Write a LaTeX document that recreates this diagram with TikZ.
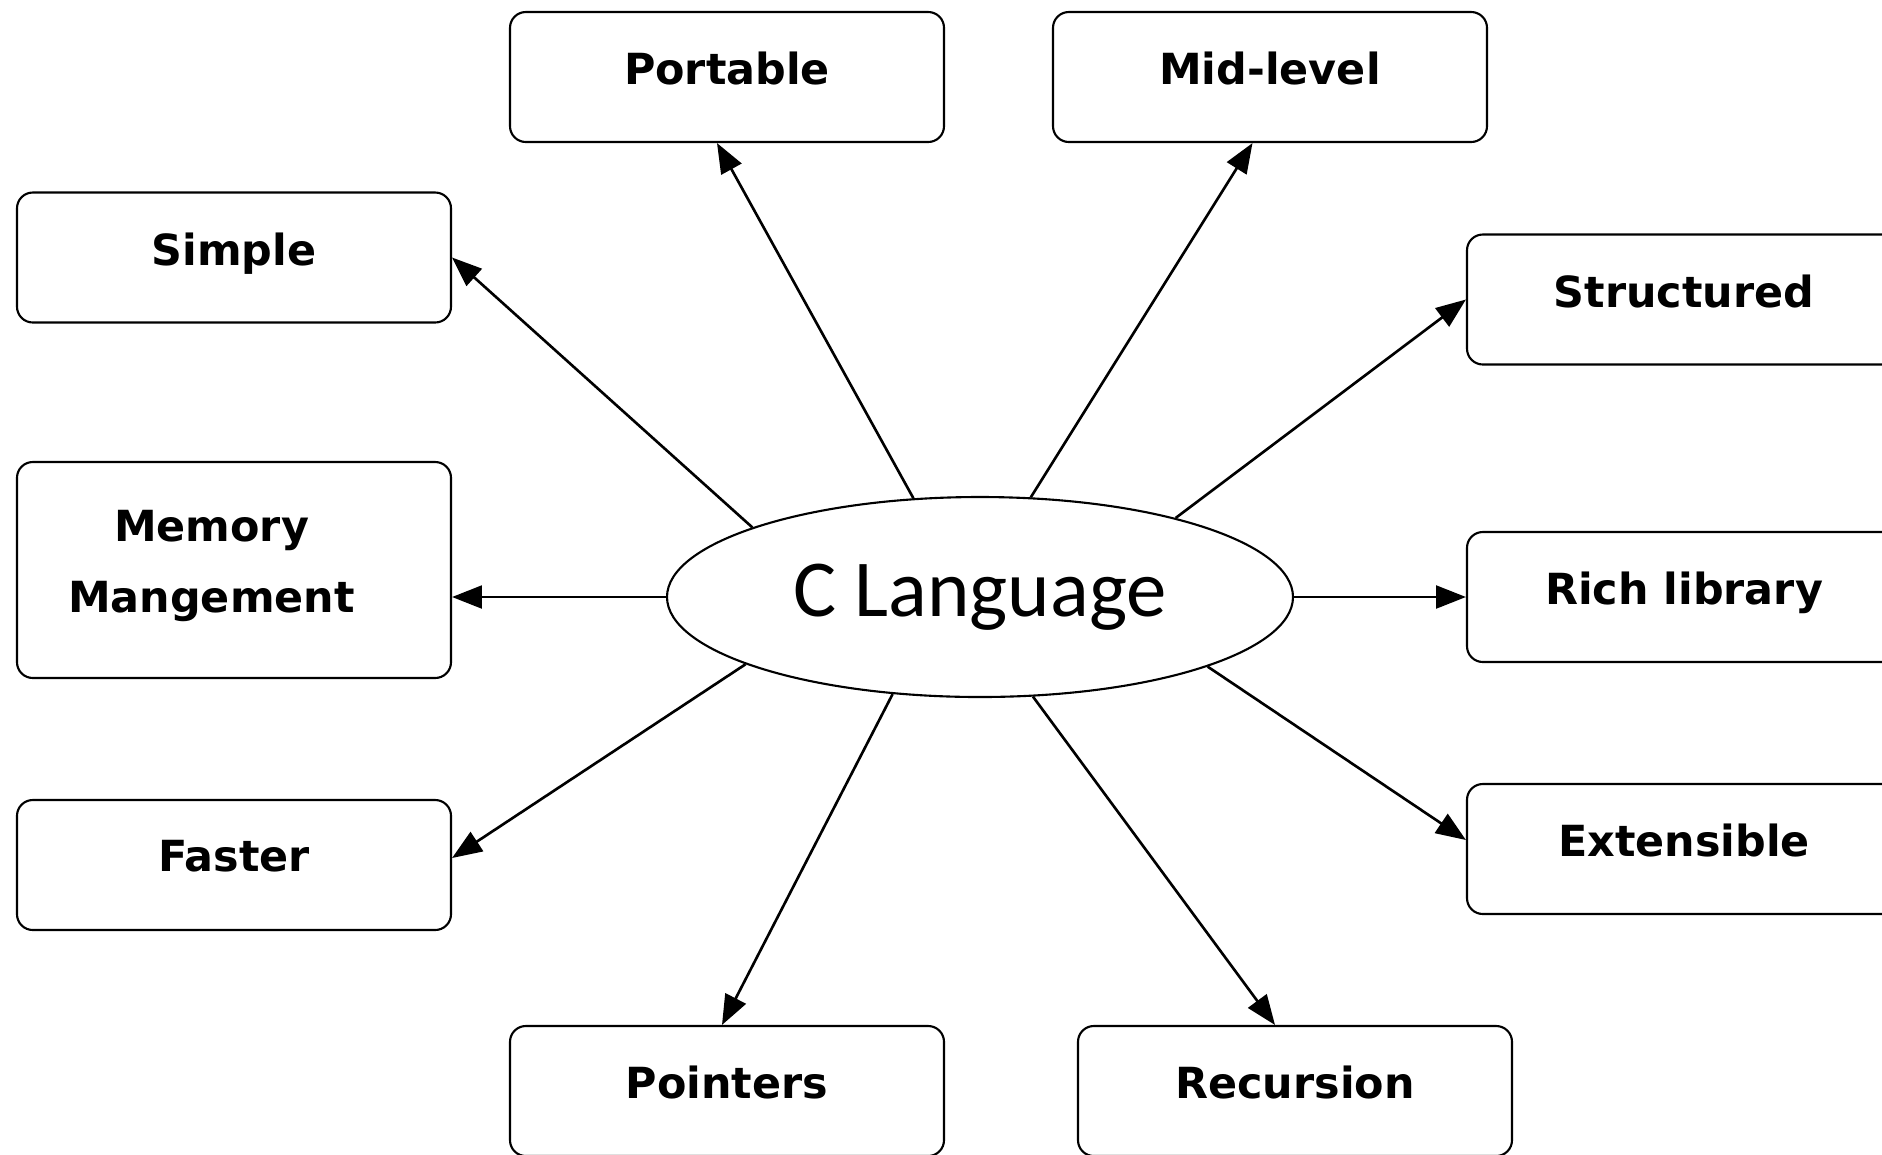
\documentclass[tikz,border=0pt]{standalone}
\usepackage{fontspec}
\setsansfont{DejaVu Sans}
\newfontfamily\langfont{Carlito}
\usetikzlibrary{arrows.meta, shapes.geometric}

\tikzset{
  feature/.style={draw=black, line width=0.6pt, rounded corners=4.5pt, minimum width=4.34cm, minimum height=1.3cm, inner sep=0pt, text depth=0.5em, align=center, font=\sffamily\bfseries\fontsize{12.2}{20.2}\selectfont},
  lang/.style={draw=black, line width=0.6pt, ellipse, minimum width=6.26cm, minimum height=2cm, inner sep=0pt, font=\langfont\fontsize{23}{28}\selectfont},
  arr/.style={line width=0.75pt, -{Triangle[length=8.5pt,width=6.5pt]}}
}

\begin{document}
\begin{tikzpicture}
  \useasboundingbox (0,0) rectangle (18.82,-11.54);
  \clip (0,0) rectangle (18.82,-11.54);

  % centre
  \node[lang] (clang) at (9.80,-5.97) {C Language};

  % features
  \node[feature] (portable) at (7.27,-0.77) {Portable};
  \node[feature] (midlevel) at (12.70,-0.77) {Mid-level};
  \node[feature] (simple) at (2.34,-2.575) {Simple};
  \node[feature] (structured) at (16.84,-2.995) {Structured};
  \node[feature, minimum height=2.16cm] (memory) at (2.34,-5.70) {Memory\hspace*{0.45cm}\\Mangement\hspace*{0.45cm}};
  \node[feature] (richlib) at (16.84,-5.97) {Rich library};
  \node[feature] (faster) at (2.34,-8.65) {Faster};
  \node[feature] (extensible) at (16.84,-8.49) {Extensible};
  \node[feature] (pointers) at (7.27,-10.91) {Pointers};
  \node[feature] (recursion) at (12.95,-10.91) {Recursion};

  % arrows
  \draw[arr] (clang.163) -- (simple.east);
  \draw[arr] (clang.124) -- ([xshift=-1mm]portable.south);
  \draw[arr] (clang.63) -- ([xshift=-1.75mm]midlevel.south);
  \draw[arr] (clang.22) -- (structured.west);
  \draw[arr] (clang.west) -- (clang.west -| memory.east);
  \draw[arr] (clang.east) -- (clang.east -| richlib.west);
  \draw[arr] (clang.196) -- ([yshift=0.7mm]faster.east);
  \draw[arr] (clang.-17) -- ([yshift=0.9mm]extensible.west);
  \draw[arr] (clang.228) -- ([xshift=-0.5mm]pointers.north);
  \draw[arr] (clang.298) -- ([xshift=-2mm]recursion.north);
\end{tikzpicture}
\end{document}
